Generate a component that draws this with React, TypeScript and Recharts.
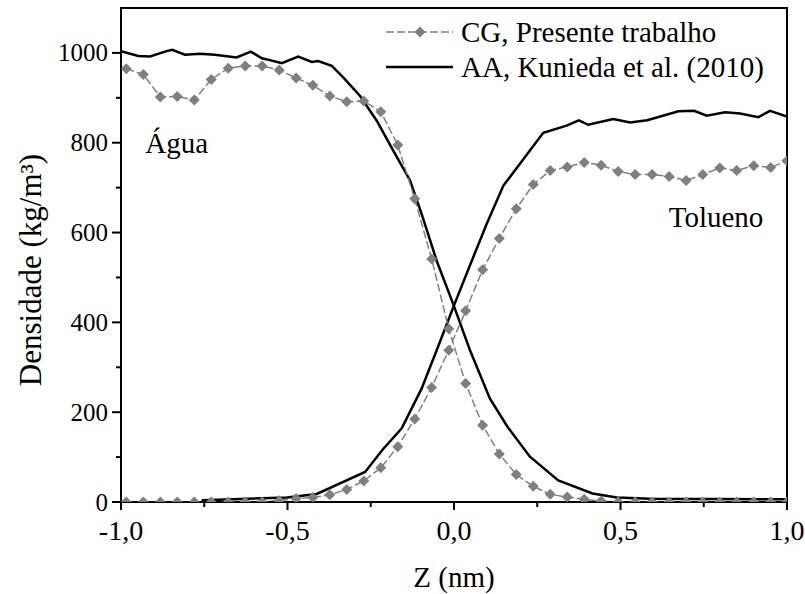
import React from 'react';
import {
  LineChart,
  Line,
  XAxis,
  YAxis,
  Legend,
  Label,
  ReferenceArea,
  ReferenceDot,
} from 'recharts';

// CG (coarse grained) profiles, one point per bin
const zCG = [
  -0.984, -0.933, -0.882, -0.831, -0.78, -0.729, -0.678, -0.627, -0.576, -0.525,
  -0.474, -0.424, -0.373, -0.322, -0.271, -0.22, -0.169, -0.118, -0.067, -0.016,
  0.035, 0.086, 0.136, 0.187, 0.238, 0.289, 0.34, 0.391, 0.442, 0.493,
  0.544, 0.595, 0.646, 0.697, 0.747, 0.798, 0.849, 0.9, 0.951, 1.0,
];
const cgAgua = [
  965, 952, 902, 903, 895, 941, 966, 971, 971, 962,
  944, 928, 904, 891, 893, 869, 795, 675, 541, 386,
  264, 171, 107, 61, 35, 17, 11, 6, 2, 0,
  0, 0, 0, 0, 0, 0, 0, 0, 0, 0,
];
const cgTolueno = [
  0, 0, 0, 0, 0, 0, 0, 0, 0, 3,
  8, 10, 16, 28, 47, 76, 123, 185, 255, 338,
  426, 517, 587, 653, 707, 738, 746, 756, 750, 736,
  729, 729, 725, 716, 729, 744, 738, 749, 745, 760,
];

// AA (atomistic) profiles, Kunieda et al.
const zAAAgua = [
  -1.0, -0.948, -0.913, -0.863, -0.846, -0.808, -0.763, -0.718, -0.653, -0.61,
  -0.577, -0.553, -0.517, -0.468, -0.427, -0.408, -0.367, -0.332, -0.282, -0.232,
  -0.182, -0.132, -0.097, -0.051, -0.002, 0.048, 0.108, 0.161, 0.228, 0.313,
  0.416, 0.489, 0.589, 1.0,
];
const aaAgua = [
  1004, 993, 992, 1004, 1007, 996, 998, 996, 990, 1003,
  988, 984, 977, 992, 980, 982, 971, 945, 904, 849,
  782, 716, 641, 535, 440, 338, 230, 167, 101, 48,
  19, 10, 7, 6,
];
const zAATolueno = [
  -0.758, -0.502, -0.412, -0.267, -0.214, -0.157, -0.097, -0.052, -0.002, 0.048,
  0.098, 0.148, 0.268, 0.338, 0.375, 0.403, 0.478, 0.529, 0.58, 0.674,
  0.721, 0.759, 0.814, 0.859, 0.914, 0.949, 1.0,
];
const aaTolueno = [
  4, 10, 18, 67, 117, 164, 253, 338, 434, 527,
  619, 704, 822, 838, 850, 840, 853, 845, 850, 870,
  871, 860, 868, 865, 857, 871, 858,
];

const seriesNames = ['CG, Presente trabalho', 'AA, Kunieda et al. (2010)'];
const xTicks = [-1, -0.75, -0.5, -0.25, 0, 0.25, 0.5, 0.75, 1];
const yTicks = [0, 100, 200, 300, 400, 500, 600, 700, 800, 900, 1000];

const toPoints = (zs: number[], vs: number[]) => zs.map((z, i) => ({ z, v: vs[i] }));

const FONT = '"Liberation Serif", "Times New Roman", serif';
const GRAY = '#808080';

const diamondPath = (cx: number, cy: number, r: number) =>
  `M${cx},${cy - r}L${cx + r},${cy}L${cx},${cy + r}L${cx - r},${cy}Z`;

const Diamond = (props: any) => {
  const { cx, cy, index } = props;
  if (cx == null || cy == null) return <g key={index} />;
  return <path key={index} d={diamondPath(cx, cy, 5.5)} fill="#7f7f7f" />;
};

const YTick = (props: any) => {
  const { x, y, payload } = props;
  const major = payload.value % 200 === 0;
  return (
    <g>
      <line x1={x - (major ? 9 : 5)} x2={x} y1={y} y2={y} stroke="#000" strokeWidth={2} />
      {major && (
        <text x={x - 13} y={y} textAnchor="end" dominantBaseline="central"
          fontFamily={FONT} fontSize={25} fill="#000">
          {payload.value}
        </text>
      )}
    </g>
  );
};

const XTick = (props: any) => {
  const { x, y, payload } = props;
  const v = payload.value as number;
  const major = Math.abs(v * 2 - Math.round(v * 2)) < 1e-6;
  return (
    <g>
      <line x1={x} x2={x} y1={y} y2={y + (major ? 8 : 5)} stroke="#000" strokeWidth={2} />
      {major && (
        <text x={x} y={y + 38} textAnchor="middle" fontFamily={FONT} fontSize={28} fill="#000">
          {v.toFixed(1).replace('.', ',')}
        </text>
      )}
    </g>
  );
};

const LegendBox = () => (
  <svg width={420} height={80} style={{ display: 'block' }}>
    <line x1={6} x2={73} y1={20} y2={20} stroke={GRAY} strokeWidth={1.5} strokeDasharray="8 3" />
    <path d={diamondPath(40, 20, 5.5)} fill="#7f7f7f" />
    <text x={81} y={20} dominantBaseline="central" fontFamily={FONT} fontSize={29} fill="#000">
      {seriesNames[0]}
    </text>
    <line x1={6} x2={73} y1={55} y2={55} stroke="#000" strokeWidth={2.5} />
    <text x={81} y={55} dominantBaseline="central" fontFamily={FONT} fontSize={29} fill="#000">
      {seriesNames[1]}
    </text>
  </svg>
);

export default function App() {
  return (
    <div style={{ position: 'absolute', left: 0, top: 0, background: '#fff' }}>
      <LineChart width={805} height={594} margin={{ top: 8, right: 18, left: 0, bottom: 0 }}>
        <XAxis
          type="number"
          dataKey="z"
          domain={[-1, 1]}
          ticks={xTicks}
          interval={0}
          height={92}
          tickSize={0}
          tickMargin={0}
          tickLine={false}
          tick={<XTick />}
          axisLine={{ stroke: '#000', strokeWidth: 2 }}
          allowDataOverflow
        >
          <Label
            content={() => (
              <text x={454} y={587} textAnchor="middle" fontFamily={FONT} fontSize={29} fill="#000">
                Z (nm)
              </text>
            )}
          />
        </XAxis>
        <YAxis
          type="number"
          domain={[0, 1100]}
          ticks={yTicks}
          interval={0}
          width={121}
          tickSize={0}
          tickMargin={0}
          tickLine={false}
          tick={<YTick />}
          axisLine={{ stroke: '#000', strokeWidth: 2 }}
          allowDataOverflow
        >
          <Label
            content={() => (
              <text x={30} y={270} transform="rotate(-90 30 270)" textAnchor="middle"
                dominantBaseline="central" fontFamily={FONT} fontSize={31} fill="#000">
                Densidade (kg/m³)
              </text>
            )}
          />
        </YAxis>
        <ReferenceArea x1={-1} x2={1} y1={0} y2={1100} fill="none" stroke="#000" strokeWidth={2}
          ifOverflow="visible" />
        <Line data={toPoints(zAAAgua, aaAgua)} dataKey="v" name={seriesNames[1]} stroke="#000"
          strokeWidth={2.5} dot={false} isAnimationActive={false} />
        <Line data={toPoints(zAATolueno, aaTolueno)} dataKey="v" name={seriesNames[1]} stroke="#000"
          strokeWidth={2.5} dot={false} isAnimationActive={false} />
        <Line data={toPoints(zCG, cgAgua)} dataKey="v" name={seriesNames[0]} stroke={GRAY}
          strokeWidth={1.5} strokeDasharray="8 3" dot={Diamond} isAnimationActive={false} />
        <Line data={toPoints(zCG, cgTolueno)} dataKey="v" name={seriesNames[0]} stroke={GRAY}
          strokeWidth={1.5} strokeDasharray="8 3" dot={Diamond} isAnimationActive={false} />
        <ReferenceDot x={-0.833} y={800} r={0} fill="none" stroke="none"
          label={{ value: 'Água', position: 'center', fontSize: 29, fontFamily: FONT, fill: '#000' }} />
        <ReferenceDot x={0.787} y={636} r={0} fill="none" stroke="none"
          label={{ value: 'Tolueno', position: 'center', fontSize: 29, fontFamily: FONT, fill: '#000' }} />
        <Legend
          content={LegendBox}
          layout="horizontal"
          verticalAlign="middle"
          align="center"
          wrapperStyle={{ left: 380, top: 12, width: 420 }}
        />
      </LineChart>
    </div>
  );
}
